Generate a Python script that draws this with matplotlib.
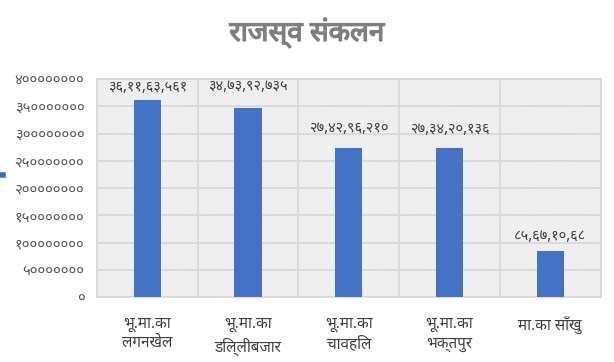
import matplotlib
matplotlib.use("Agg")
import matplotlib.pyplot as plt
from matplotlib.patches import Rectangle
from matplotlib.lines import Line2D
import matplotlib.patheffects as pe
import numpy as np

plt.rcParams['font.family'] = ['Noto Sans Devanagari', 'DejaVu Sans']
plt.rcParams['hatch.linewidth'] = 0.9
plt.rcParams['hatch.color'] = '#e6e6e6'

title = "राजस्व संकलन"
categories = ["भू.मा.का\nलगनखेल", "भू.मा.का\nडिल्लीबजार", "भू.मा.का\nचावहिल",
              "भू.मा.का\nभक्तपुर", "मा.का साँखु"]
values = [361163561, 347392735, 274296210, 273420136, 85671068]
value_labels = ["३६,११,६३,५६१", "३४,७३,९२,७३५", "२७,४२,९६,२१०",
                "२७,३४,२०,१३६", "८५,६७,१०,६८"]
yticks = [0, 50000000, 100000000, 150000000, 200000000,
          250000000, 300000000, 350000000, 400000000]

DEV = str.maketrans("0123456789", "०१२३४५६७८९")

def dev(n):
    return str(int(n)).translate(DEV)

W, H = 614, 362
fig = plt.figure(figsize=(W / 100, H / 100), dpi=100)
fig.patch.set_facecolor('white')
left, right, bottom, top = 97, 600.5, 297.3, 79
ax = fig.add_axes([left / W, 1 - bottom / H, (right - left) / W, (bottom - top) / H])

ax.set_facecolor('white')
bg = Rectangle((0, 0), 1, 1, transform=ax.transAxes, facecolor='white',
               edgecolor='#e6e6e6', hatch='/' * 12, linewidth=0, zorder=0)
ax.add_patch(bg)

x = np.arange(len(categories))
ax.bar(x, values, width=0.27, color='#4472C4', zorder=3)

ax.set_xlim(-0.5, len(categories) - 0.5)
ax.set_ylim(0, 400000000)
ax.set_yticks(yticks)
ax.set_yticklabels([dev(v) for v in yticks], color='#595959', fontsize=10.8)
ax.set_xticks(x)
ax.set_xticklabels(categories, color='#404040', fontsize=11, linespacing=1.45)
ax.set_xticks(np.arange(len(categories) + 1) - 0.5, minor=True)
ax.tick_params(axis='both', which='both', length=0)
ax.tick_params(axis='y', pad=9)
ax.tick_params(axis='x', pad=14)
ax.grid(axis='y', which='major', color='#d9d9d9', linewidth=1.3, zorder=1)
ax.grid(axis='x', which='minor', color='#d9d9d9', linewidth=1.3, zorder=1)
ax.grid(axis='x', which='major', visible=False)
for s in ax.spines.values():
    s.set_color('#d9d9d9')
    s.set_linewidth(1.3)

label_offsets_px = [13, 21, 19, 19, 14]
for xi, v, lab, off in zip(x, values, value_labels, label_offsets_px):
    ax.annotate(lab, (xi, v), xytext=(0, off * 0.72), textcoords='offset points',
                ha='center', va='center', fontsize=10.5, color='#404040', zorder=4)

fig.text(0.5, 1 - 33 / H, title, ha='center', va='center', fontsize=20,
         color='#7f7f7f',
         path_effects=[pe.withStroke(linewidth=1.0, foreground='#7f7f7f')])

fig.add_artist(Line2D([0, 2.5 / W], [1 - 175 / H, 1 - 175 / H], color='#2f6fd6',
                      linewidth=4, transform=fig.transFigure))

fig.savefig("out.png", dpi=100)
